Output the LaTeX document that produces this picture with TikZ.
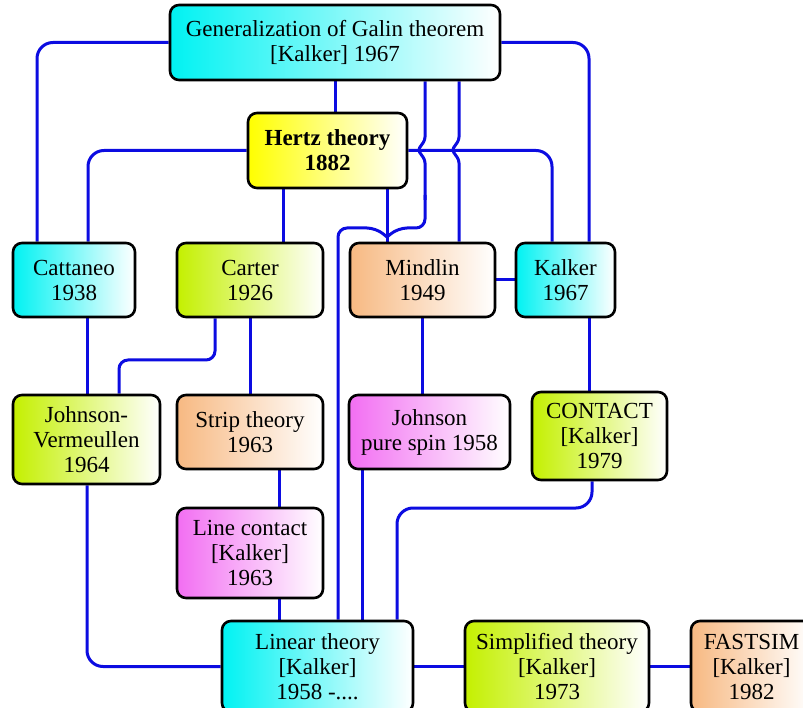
\documentclass[tikz,border=0pt]{standalone}
\usepackage{fontspec}
\setmainfont{Liberation Serif}
\usetikzlibrary{backgrounds}
\definecolor{lnk}{RGB}{12,12,225}
\definecolor{cyanL}{RGB}{0,242,242}
\definecolor{yellowL}{RGB}{255,255,0}
\definecolor{greenL}{RGB}{196,240,0}
\definecolor{orangeL}{RGB}{247,185,130}
\definecolor{pinkL}{RGB}{242,110,242}
\begin{document}
\begin{tikzpicture}[x=1pt,y=-1pt,
  box/.style={draw=black,line width=2.6pt,rounded corners=9pt,inner sep=0pt,align=center,
    font=\fontsize{23}{25}\selectfont},
  cybox/.style={box,left color=cyanL,right color=white},
  yebox/.style={box,left color=yellowL,right color=white},
  grbox/.style={box,left color=greenL,right color=white},
  orbox/.style={box,left color=orangeL,right color=white},
  pkbox/.style={box,left color=pinkL,right color=white},
  link/.style={draw=lnk,line width=3pt,rounded corners=16pt},
  slink/.style={draw=lnk,line width=3pt,rounded corners=9pt},
  hop/.style={draw=lnk,line width=3pt,rounded corners=3pt}]
\useasboundingbox (0,0) rectangle (803,708);
\clip (0,0) rectangle (803,708);

\node[cybox,minimum width=330pt,minimum height=75pt] (gen) at (335,42.5)
  {Generalization of Galin theorem\\{}[Kalker] 1967};
\node[yebox,minimum width=159pt,minimum height=75pt,font=\fontsize{23}{25}\selectfont\bfseries] (hertz) at (327.5,150.5)
  {Hertz theory\\1882};
\node[cybox,minimum width=122pt,minimum height=74pt] (catt) at (74,280) {Cattaneo\\1938};
\node[grbox,minimum width=146pt,minimum height=74pt] (carter) at (250,280) {Carter\\1926};
\node[orbox,minimum width=145pt,minimum height=74pt] (mindlin) at (422.5,280) {Mindlin\\1949};
\node[cybox,minimum width=99pt,minimum height=74pt] (kalker) at (565.5,280) {Kalker\\1967};
\node[grbox,minimum width=147pt,minimum height=89pt] (jv) at (86.5,439.5) {Johnson-\\Vermeullen\\1964};
\node[orbox,minimum width=146pt,minimum height=74pt] (strip) at (250,432) {Strip theory\\1963};
\node[pkbox,minimum width=161pt,minimum height=74pt] (jps) at (429.5,432) {Johnson\\pure spin 1958};
\node[grbox,minimum width=135pt,minimum height=88pt] (contact) at (599.5,436) {CONTACT\\{}[Kalker]\\1979};
\node[pkbox,minimum width=146pt,minimum height=90pt] (line) at (250,553) {Line contact\\{}[Kalker]\\1963};
\node[cybox,minimum width=191pt,minimum height=91pt] (linear) at (317.5,666.5) {Linear theory\\{}[Kalker]\\1958 -....};
\node[grbox,minimum width=184pt,minimum height=91pt] (simpl) at (557,666.5) {Simplified theory\\{}[Kalker]\\1973};
\node[orbox,minimum width=121pt,minimum height=91pt] (fast) at (751.5,666.5) {FASTSIM\\{}[Kalker]\\1982};

\begin{pgfonlayer}{background}
  % from Generalization
  \draw[link] (gen.west) -- (37,42.5) -- (catt.north -| 37,0);
  \draw[link] (gen.east) -- (589,42.5) -- (kalker.north -| 589,0);
  \draw[link] (gen.south -| 335,0) -- (hertz.north -| 335,0);
  \draw[hop] (gen.south -| 425,0) -- (425,140) -- (418,150) -- (425,160) -- (425,200);
  \draw[slink] (425,195) -- (425,228) -- (398,228) -- (387,237);
  \draw[slink] (387,237) -- (376,228) -- (338,228) -- (linear.north -| 338,0);
  \draw[hop] (gen.south -| 459,0) -- (459,140) -- (452,150) -- (459,160) -- (mindlin.north -| 459,0);
  % from Hertz
  \draw[link] (hertz.west) -- (88,150.5) -- (catt.north -| 88,0);
  \draw[link] (hertz.east) -- (552,150.5) -- (kalker.north -| 552,0);
  \draw[link] (hertz.south -| 283,0) -- (carter.north -| 283,0);
  \draw[link] (hertz.south -| 387,0) -- (mindlin.north -| 387,0);
  % second level
  \draw[link] (mindlin.east) -- (kalker.west);
  \draw[link] (catt.south -| 87,0) -- (jv.north -| 87,0);
  \draw[slink] (carter.south -| 215,0) -- (215,360) -- (119,360) -- (jv.north -| 119,0);
  \draw[link] (carter.south -| 250,0) -- (strip.north -| 250,0);
  \draw[link] (mindlin.south -| 422,0) -- (jps.north -| 422,0);
  \draw[link] (kalker.south -| 589,0) -- (contact.north -| 589,0);
  % lower
  \draw[link] (strip.south -| 279,0) -- (line.north -| 279,0);
  \draw[link] (line.south -| 279,0) -- (linear.north -| 279,0);
  \draw[link] (jv.south -| 87,0) -- (87,666.5) -- (linear.west);
  \draw[link] (jps.south -| 362,0) -- (linear.north -| 362,0);
  \draw[link] (contact.south -| 592,0) -- (592,508) -- (397,508) -- (linear.north -| 397,0);
  \draw[link] (linear.east) -- (simpl.west);
  \draw[link] (simpl.east) -- (fast.west);
\end{pgfonlayer}
\end{tikzpicture}
\end{document}
